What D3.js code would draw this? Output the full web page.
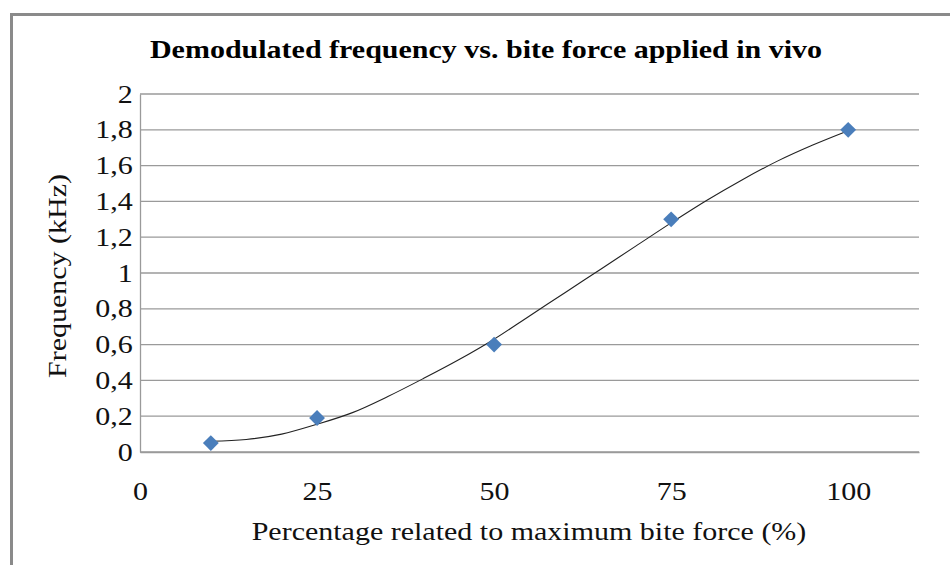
<!DOCTYPE html>
<html>
<head>
<meta charset="utf-8">
<script src="https://cdn.jsdelivr.net/npm/d3@7"></script>
<style>
  html, body { margin: 0; padding: 0; background: #fff; }
  svg { display: block; font-family: "Liberation Serif", "Times New Roman", serif; }
</style>
</head>
<body>
<svg id="chart" width="950" height="565"></svg>
<script>
// measured points
const forcePct = [10, 25, 50, 75, 100];
const freqKHz = [0.05, 0.19, 0.6, 1.3, 1.8];

// trendline
const trendX = [10, 15, 20, 25, 30, 35, 40, 45, 50, 55, 60, 65, 70, 75, 80, 85, 90, 95, 100];
const trendY = [0.06, 0.07, 0.10, 0.155, 0.22, 0.31, 0.41, 0.515, 0.63, 0.76, 0.89, 1.02, 1.15, 1.28, 1.405, 1.52, 1.625, 1.715, 1.795];

const xTicks = [0, 25, 50, 75, 100];
const yTicks = [0, 0.2, 0.4, 0.6, 0.8, 1, 1.2, 1.4, 1.6, 1.8, 2];

const svg = d3.select("#chart");
const width = 950;
const height = 565;
const stretch = "scale(1.2,1)"; // text in the original is drawn a bit wide

const margin = { top: 94, right: 31, bottom: 113, left: 140 };
const innerW = width - margin.left - margin.right;
const innerH = height - margin.top - margin.bottom;

// outer chart frame (runs off the right and bottom edge)
svg.append("path")
  .attr("d", `M11.5,${height + 5}V14.5H${width + 5}`)
  .attr("fill", "none")
  .attr("stroke", "#8a8a8a")
  .attr("stroke-width", 3);

const g = svg.append("g")
  .attr("transform", `translate(${margin.left},${margin.top})`);

const x = d3.scaleLinear().domain([0, 110]).range([0, innerW]);
const y = d3.scaleLinear().domain([0, 2]).range([innerH, 0]);

// gridlines
g.append("g")
  .selectAll("line")
  .data(yTicks)
  .enter()
  .append("line")
  .attr("x1", 0)
  .attr("x2", innerW)
  .attr("y1", d => y(d))
  .attr("y2", d => y(d))
  .attr("stroke", "#9a9a9a")
  .attr("stroke-width", 1.3);

// axes
const fmt = d => String(d3.format("~g")(d)).replace(".", ",");

const yAxis = d3.axisLeft(y).tickValues(yTicks).tickSize(0).tickPadding(6).tickFormat(fmt);
const yG = g.append("g").call(yAxis);
yG.select(".domain").attr("stroke", "#9a9a9a").attr("stroke-width", 1.3);
yG.selectAll("text")
  .attr("font-size", 25)
  .attr("fill", "#111")
  .attr("font-family", "Liberation Serif, serif")
  .attr("transform", stretch);

const xAxis = d3.axisBottom(x).tickValues(xTicks).tickSize(0).tickPadding(30);
const xG = g.append("g")
  .attr("transform", `translate(0,${innerH})`)
  .call(xAxis);
xG.select(".domain").attr("stroke", "#9a9a9a").attr("stroke-width", 1.3);
xG.selectAll("text")
  .attr("font-size", 25)
  .attr("fill", "#111")
  .attr("font-family", "Liberation Serif, serif")
  .attr("transform", stretch);

// trendline
const line = d3.line()
  .x(d => x(d[0]))
  .y(d => y(d[1]))
  .curve(d3.curveCatmullRom);

g.append("path")
  .datum(trendX.map((v, i) => [v, trendY[i]]))
  .attr("d", line)
  .attr("fill", "none")
  .attr("stroke", "#222")
  .attr("stroke-width", 1.1);

// markers (diamonds)
g.selectAll(".pt")
  .data(forcePct.map((v, i) => [v, freqKHz[i]]))
  .enter()
  .append("path")
  .attr("class", "pt")
  .attr("d", d3.symbol().type(d3.symbolDiamond2).size(160))
  .attr("transform", d => `translate(${x(d[0])},${y(d[1])})`)
  .attr("fill", "#4a7ebb");

// title
svg.append("text")
  .attr("transform", `translate(486,58) ${stretch}`)
  .attr("text-anchor", "middle")
  .attr("font-size", 25)
  .attr("font-weight", "bold")
  .attr("fill", "#000")
  .text("Demodulated frequency vs. bite force applied in vivo");

// axis titles
svg.append("text")
  .attr("transform", `translate(66,${margin.top + innerH / 2 + 3}) rotate(-90) ${stretch}`)
  .attr("text-anchor", "middle")
  .attr("font-size", 25)
  .attr("fill", "#111")
  .text("Frequency (kHz)");

svg.append("text")
  .attr("transform", `translate(529,540) ${stretch}`)
  .attr("text-anchor", "middle")
  .attr("font-size", 25)
  .attr("fill", "#111")
  .text("Percentage related to maximum bite force (%)");
</script>
</body>
</html>
